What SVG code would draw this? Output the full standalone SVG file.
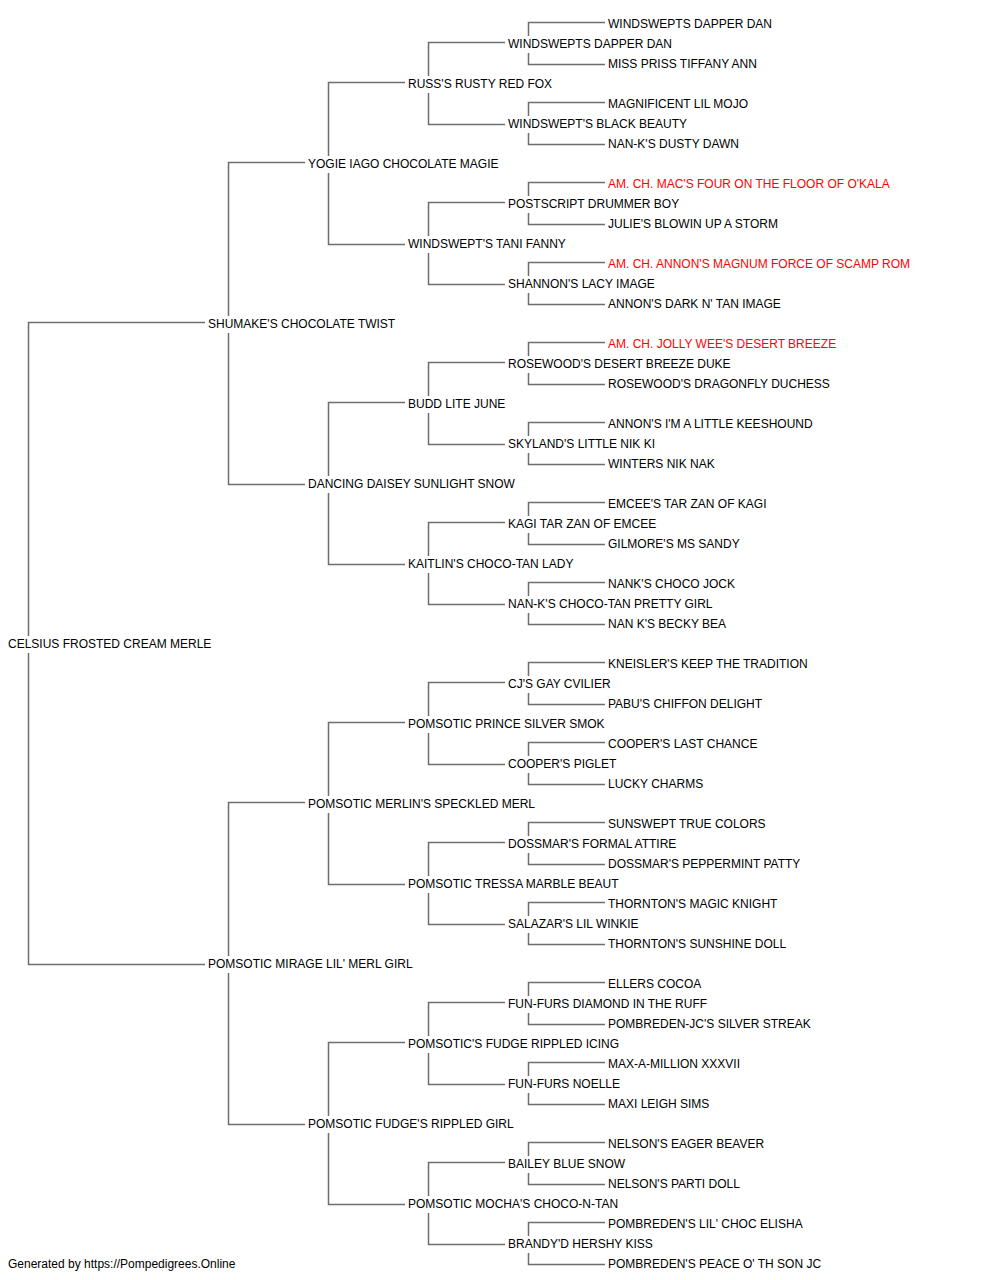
<svg xmlns="http://www.w3.org/2000/svg" width="1000" height="1280" viewBox="0 0 1000 1280">
<style>
text{font-family:"Liberation Sans",Arial,sans-serif;font-size:12px;fill:#000}
.red{fill:#ff0000}
.c path{fill:none;stroke:#6e6e6e;stroke-width:1.5}
</style>
<rect width="1000" height="1280" fill="#fff"/>
<g class="c" id="connectors">
<path d="M205 322.5H28.5V636M28.5 653V964.5H205"/>
<path d="M305 162.5H228.5V316M228.5 333V484.5H305"/>
<path d="M305 802.5H228.5V956M228.5 973V1124.5H305"/>
<path d="M405 82.5H328.5V156M328.5 173V244.5H405"/>
<path d="M405 402.5H328.5V476M328.5 493V564.5H405"/>
<path d="M405 722.5H328.5V796M328.5 813V884.5H405"/>
<path d="M405 1042.5H328.5V1116M328.5 1133V1204.5H405"/>
<path d="M505 42.5H428.5V76M428.5 93V124.5H505"/>
<path d="M505 202.5H428.5V236M428.5 253V284.5H505"/>
<path d="M505 362.5H428.5V396M428.5 413V444.5H505"/>
<path d="M505 522.5H428.5V556M428.5 573V604.5H505"/>
<path d="M505 682.5H428.5V716M428.5 733V764.5H505"/>
<path d="M505 842.5H428.5V876M428.5 893V924.5H505"/>
<path d="M505 1002.5H428.5V1036M428.5 1053V1084.5H505"/>
<path d="M505 1162.5H428.5V1196M428.5 1213V1244.5H505"/>
<path d="M605 22.5H528.5V36M528.5 53V64.5H605"/>
<path d="M605 102.5H528.5V116M528.5 133V144.5H605"/>
<path d="M605 182.5H528.5V196M528.5 213V224.5H605"/>
<path d="M605 262.5H528.5V276M528.5 293V304.5H605"/>
<path d="M605 342.5H528.5V356M528.5 373V384.5H605"/>
<path d="M605 422.5H528.5V436M528.5 453V464.5H605"/>
<path d="M605 502.5H528.5V516M528.5 533V544.5H605"/>
<path d="M605 582.5H528.5V596M528.5 613V624.5H605"/>
<path d="M605 662.5H528.5V676M528.5 693V704.5H605"/>
<path d="M605 742.5H528.5V756M528.5 773V784.5H605"/>
<path d="M605 822.5H528.5V836M528.5 853V864.5H605"/>
<path d="M605 902.5H528.5V916M528.5 933V944.5H605"/>
<path d="M605 982.5H528.5V996M528.5 1013V1024.5H605"/>
<path d="M605 1062.5H528.5V1076M528.5 1093V1104.5H605"/>
<path d="M605 1142.5H528.5V1156M528.5 1173V1184.5H605"/>
<path d="M605 1222.5H528.5V1236M528.5 1253V1264.5H605"/>
</g>
<g id="n0"><text x="8" y="648">CELSIUS FROSTED CREAM MERLE</text></g>
<g id="n1a"><text x="208" y="328">SHUMAKE'S CHOCOLATE TWIST</text></g>
<g id="n1b"><text x="208" y="968">POMSOTIC MIRAGE LIL' MERL GIRL</text></g>
<g id="n2a"><text x="308" y="168">YOGIE IAGO CHOCOLATE MAGIE</text></g>
<g id="n2b"><text x="308" y="488">DANCING DAISEY SUNLIGHT SNOW</text></g>
<g id="n2c"><text x="308" y="808">POMSOTIC MERLIN'S SPECKLED MERL</text></g>
<g id="n2d"><text x="308" y="1128">POMSOTIC FUDGE'S RIPPLED GIRL</text></g>
<g id="n3a"><text x="408" y="88">RUSS'S RUSTY RED FOX</text></g>
<g id="n3b"><text x="408" y="248">WINDSWEPT'S TANI FANNY</text></g>
<g id="n3c"><text x="408" y="408">BUDD LITE JUNE</text></g>
<g id="n3d"><text x="408" y="568">KAITLIN'S CHOCO-TAN LADY</text></g>
<g id="n3e"><text x="408" y="728">POMSOTIC PRINCE SILVER SMOK</text></g>
<g id="n3f"><text x="408" y="888">POMSOTIC TRESSA MARBLE BEAUT</text></g>
<g id="n3g"><text x="408" y="1048">POMSOTIC'S FUDGE RIPPLED ICING</text></g>
<g id="n3h"><text x="408" y="1208">POMSOTIC MOCHA'S CHOCO-N-TAN</text></g>
<g id="n4a"><text x="508" y="48">WINDSWEPTS DAPPER DAN</text></g>
<g id="n4b"><text x="508" y="128">WINDSWEPT'S BLACK BEAUTY</text></g>
<g id="n4c"><text x="508" y="208">POSTSCRIPT DRUMMER BOY</text></g>
<g id="n4d"><text x="508" y="288">SHANNON'S LACY IMAGE</text></g>
<g id="n4e"><text x="508" y="368">ROSEWOOD'S DESERT BREEZE DUKE</text></g>
<g id="n4f"><text x="508" y="448">SKYLAND'S LITTLE NIK KI</text></g>
<g id="n4g"><text x="508" y="528">KAGI TAR ZAN OF EMCEE</text></g>
<g id="n4h"><text x="508" y="608">NAN-K'S CHOCO-TAN PRETTY GIRL</text></g>
<g id="n4i"><text x="508" y="688">CJ'S GAY CVILIER</text></g>
<g id="n4j"><text x="508" y="768">COOPER'S PIGLET</text></g>
<g id="n4k"><text x="508" y="848">DOSSMAR'S FORMAL ATTIRE</text></g>
<g id="n4l"><text x="508" y="928">SALAZAR'S LIL WINKIE</text></g>
<g id="n4m"><text x="508" y="1008">FUN-FURS DIAMOND IN THE RUFF</text></g>
<g id="n4n"><text x="508" y="1088">FUN-FURS NOELLE</text></g>
<g id="n4o"><text x="508" y="1168">BAILEY BLUE SNOW</text></g>
<g id="n4p"><text x="508" y="1248">BRANDY'D HERSHY KISS</text></g>
<g id="n5_00"><text x="608" y="28">WINDSWEPTS DAPPER DAN</text></g>
<g id="n5_01"><text x="608" y="68">MISS PRISS TIFFANY ANN</text></g>
<g id="n5_02"><text x="608" y="108">MAGNIFICENT LIL MOJO</text></g>
<g id="n5_03"><text x="608" y="148">NAN-K'S DUSTY DAWN</text></g>
<g id="n5_04"><text class="red" x="608" y="188">AM. CH. MAC'S FOUR ON THE FLOOR OF O'KALA</text></g>
<g id="n5_05"><text x="608" y="228">JULIE'S BLOWIN UP A STORM</text></g>
<g id="n5_06"><text class="red" x="608" y="268">AM. CH. ANNON'S MAGNUM FORCE OF SCAMP ROM</text></g>
<g id="n5_07"><text x="608" y="308">ANNON'S DARK N' TAN IMAGE</text></g>
<g id="n5_08"><text class="red" x="608" y="348">AM. CH. JOLLY WEE'S DESERT BREEZE</text></g>
<g id="n5_09"><text x="608" y="388">ROSEWOOD'S DRAGONFLY DUCHESS</text></g>
<g id="n5_10"><text x="608" y="428">ANNON'S I'M A LITTLE KEESHOUND</text></g>
<g id="n5_11"><text x="608" y="468">WINTERS NIK NAK</text></g>
<g id="n5_12"><text x="608" y="508">EMCEE'S TAR ZAN OF KAGI</text></g>
<g id="n5_13"><text x="608" y="548">GILMORE'S MS SANDY</text></g>
<g id="n5_14"><text x="608" y="588">NANK'S CHOCO JOCK</text></g>
<g id="n5_15"><text x="608" y="628">NAN K'S BECKY BEA</text></g>
<g id="n5_16"><text x="608" y="668">KNEISLER'S KEEP THE TRADITION</text></g>
<g id="n5_17"><text x="608" y="708">PABU'S CHIFFON DELIGHT</text></g>
<g id="n5_18"><text x="608" y="748">COOPER'S LAST CHANCE</text></g>
<g id="n5_19"><text x="608" y="788">LUCKY CHARMS</text></g>
<g id="n5_20"><text x="608" y="828">SUNSWEPT TRUE COLORS</text></g>
<g id="n5_21"><text x="608" y="868">DOSSMAR'S PEPPERMINT PATTY</text></g>
<g id="n5_22"><text x="608" y="908">THORNTON'S MAGIC KNIGHT</text></g>
<g id="n5_23"><text x="608" y="948">THORNTON'S SUNSHINE DOLL</text></g>
<g id="n5_24"><text x="608" y="988">ELLERS COCOA</text></g>
<g id="n5_25"><text x="608" y="1028">POMBREDEN-JC'S SILVER STREAK</text></g>
<g id="n5_26"><text x="608" y="1068">MAX-A-MILLION XXXVII</text></g>
<g id="n5_27"><text x="608" y="1108">MAXI LEIGH SIMS</text></g>
<g id="n5_28"><text x="608" y="1148">NELSON'S EAGER BEAVER</text></g>
<g id="n5_29"><text x="608" y="1188">NELSON'S PARTI DOLL</text></g>
<g id="n5_30"><text x="608" y="1228">POMBREDEN'S LIL' CHOC ELISHA</text></g>
<g id="n5_31"><text x="608" y="1268">POMBREDEN'S PEACE O' TH SON JC</text></g>
<g id="footer"><text x="8" y="1268">Generated by https://Pompedigrees.Online</text></g>
</svg>
